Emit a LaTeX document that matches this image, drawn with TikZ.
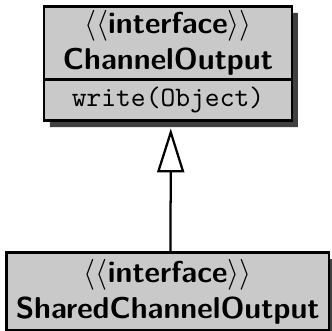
\documentclass[tikz,border=0pt]{standalone}
\usetikzlibrary{positioning,shapes.multipart,shadows,arrows.meta}
\tikzset{
  iface/.style={draw, line width=1pt, fill=black!21, font=\sffamily\fontsize{10.7pt}{13pt}\selectfont,
    align=center, anchor=north,
    drop shadow={shadow xshift=2.1pt, shadow yshift=-2.3pt, fill=black!75, opacity=1}},
  realize/.style={-{Triangle[open, length=15.6pt, width=9.6pt, line width=0.8pt]}, line width=0.8pt}
}
\newcommand{\stereo}[1]{$\langle\langle$\textbf{#1}$\rangle\rangle$}

\begin{document}
\begin{tikzpicture}
\useasboundingbox (0,0) rectangle (117.8pt,-117.1pt);
\node[iface, rectangle split, rectangle split parts=2, minimum width=88pt, inner ysep=0.8pt] (chan) at (59.6pt,-1.8pt)
  {\stereo{interface}\\\textbf{ChannelOutput}
   \nodepart{two} \normalsize\ttfamily\rule[-3.7pt]{0pt}{12pt}write(Object)};
\node[iface, minimum width=114pt, minimum height=27.6pt, inner ysep=1.7pt] (shared) at (59.5pt,-89.2pt)
  {\stereo{interface}\\\textbf{SharedChannelOutput}};
\draw[realize] ([xshift=1pt]shared.north) -- ([xshift=1pt,yshift=-2.3pt]chan.south);
\end{tikzpicture}
\end{document}
